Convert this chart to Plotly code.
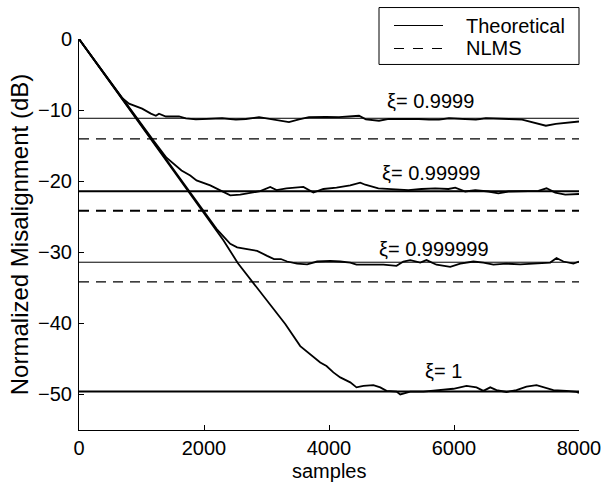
import plotly.graph_objects as go

# ---- data ----
xi_labels = ["ξ= 0.9999", "ξ= 0.99999", "ξ= 0.999999", "ξ= 1"]
theory_levels = [-11.15, -21.43, -31.4, -49.6]
nlms_levels = [-14.06, -24.15, -34.15]
label_x = [5616, 5632, 5680, 5824]
label_y = [-8.66, -18.9, -29.5, -46.7]

a_x = [0, 200, 400, 600, 690, 800, 1010, 1150, 1230, 1280, 1390, 1600, 1710, 1870, 2130,
       2290, 2510, 2670, 2880, 3040, 3250, 3360, 3520, 3680, 3950, 4160, 4320, 4480, 4590,
       4800, 4960, 5120, 5280, 5440, 5600, 5760, 5920, 6130, 6350, 6510, 6670, 6880, 7090,
       7310, 7470, 7630, 7840, 8000]
a_y = [0, -2.4, -4.8, -7.2, -8.3, -9.1, -9.8, -10.5, -10.8, -10.5, -10.9, -10.9, -11.15,
       -11.3, -11.25, -11.15, -11.35, -11.25, -11.0, -11.25, -11.6, -11.7, -11.3, -11.0,
       -10.95, -11.0, -10.9, -10.8, -11.3, -11.5, -11.25, -11.25, -11.15, -11.25, -11.35,
       -11.35, -11.15, -11.25, -11.35, -11.15, -11.15, -11.25, -11.35, -11.8, -12.2,
       -11.95, -11.7, -11.6]

b_x = [0, 400, 800, 1200, 1400, 1640, 1780, 1880, 2100, 2260, 2420, 2580, 2740, 2900,
       3060, 3160, 3320, 3590, 3750, 3910, 4120, 4340, 4500, 4580, 4790, 5060, 5270, 5480,
       5700, 5910, 6020, 6180, 6340, 6550, 6710, 6870, 7140, 7350, 7480, 7620, 7780, 7940,
       8000]
b_y = [0, -4.8, -9.7, -14.4, -16.7, -18.5, -19.2, -19.9, -20.6, -21.3, -22.0, -21.9, -21.7,
       -21.4, -20.8, -21.25, -21.0, -20.8, -21.6, -21.1, -20.9, -20.6, -20.2, -20.5, -21.0,
       -21.1, -21.25, -21.1, -21.0, -21.1, -20.9, -21.45, -21.25, -21.45, -21.7, -21.45,
       -21.45, -21.35, -21.0, -21.6, -21.9, -21.9, -21.8]

c_x = [0, 400, 800, 1200, 1600, 2000, 2200, 2420, 2530, 2690, 2850, 3010, 3120, 3230, 3330,
       3490, 3650, 3810, 4020, 4180, 4340, 4440, 4660, 4870, 5080, 5190, 5300, 5460, 5560,
       5720, 5940, 6100, 6310, 6470, 6630, 6840, 7060, 7320, 7540, 7640, 7750, 7910, 8000]
c_y = [0, -4.85, -9.75, -14.6, -19.5, -24.3, -26.7, -28.8, -29.3, -29.55, -29.8, -30.5,
       -30.95, -30.95, -31.3, -31.6, -31.7, -31.3, -31.2, -31.3, -31.45, -31.75, -31.7,
       -31.75, -31.9, -31.3, -31.1, -31.45, -31.1, -31.75, -32.05, -31.6, -31.3, -31.45,
       -31.75, -31.6, -31.7, -31.6, -31.45, -30.8, -31.3, -31.6, -31.3]

d_x = [0, 400, 800, 1200, 1600, 2000, 2310, 2540, 2800, 3050, 3300, 3540, 3700, 3860, 3960,
       4070, 4180, 4340, 4440, 4550, 4710, 4820, 4920, 5080, 5140, 5300, 5510, 5670, 5780,
       5990, 6200, 6360, 6470, 6580, 6680, 6840, 7000, 7160, 7320, 7430, 7590, 7800, 7960,
       8000]
d_y = [0, -4.9, -9.8, -14.7, -19.6, -24.5, -28.3, -31.5, -34.4, -37.3, -40.1, -43.2, -44.3,
       -45.5, -46.0, -46.9, -47.6, -48.3, -49.0, -48.8, -48.7, -49.0, -49.5, -49.6, -50.0,
       -49.6, -49.6, -49.5, -49.4, -49.2, -48.8, -49.0, -49.5, -49.0, -49.4, -49.65, -49.4,
       -48.9, -48.7, -49.0, -49.4, -49.5, -49.65, -49.8]

x_range = [0, 8000]
y_range = [-55, 0]
x_ticks = [0, 2000, 4000, 6000, 8000]
y_ticks = [0, -10, -20, -30, -40, -50]

FONT = "Liberation Sans, Arial, Helvetica, sans-serif"
FS = 20

fig = go.Figure()

theory_w = [1.0, 2.0, 1.0, 2.0]
nlms_w = [1.2, 2.0, 1.2]
for lvl, w in zip(theory_levels, theory_w):
    fig.add_trace(go.Scatter(x=x_range, y=[lvl, lvl], mode="lines",
                             line=dict(color="black", width=w), showlegend=False,
                             name="Theoretical"))
for lvl, w in zip(nlms_levels, nlms_w):
    fig.add_trace(go.Scatter(x=x_range, y=[lvl, lvl], mode="lines",
                             line=dict(color="black", width=w, dash="10px,7px"),
                             showlegend=False, name="NLMS"))

for xs, ys in [(a_x, a_y), (b_x, b_y), (c_x, c_y), (d_x, d_y)]:
    fig.add_trace(go.Scatter(x=xs, y=ys, mode="lines",
                             line=dict(color="black", width=1.8), showlegend=False))

annotations = []
for t, lx, ly in zip(xi_labels, label_x, label_y):
    annotations.append(dict(x=lx, y=ly, xref="x", yref="y", text=t, showarrow=False,
                            xanchor="center", yanchor="middle",
                            font=dict(family=FONT, size=FS, color="black")))

# x-axis title placed as an annotation under the tick labels
annotations.append(dict(x=0.5, y=(430 - 458) / 391.5, xref="paper", yref="paper",
                        text="samples", showarrow=False, xanchor="center", yanchor="top",
                        font=dict(family=FONT, size=FS, color="black")))

# hand-drawn legend box (paper coordinates)
L0, L1 = (379 - 79) / 500, (579 - 79) / 500
T0, T1 = (430 - 7) / 391.5, (430 - 64) / 391.5
row1, row2 = (430 - 25) / 391.5, (430 - 48) / 391.5
s0, s1 = (394 - 79) / 500, (443 - 79) / 500
tx = (461 - 79) / 500
shapes = [
    dict(type="rect", xref="paper", yref="paper", x0=L0, x1=L1, y0=T1, y1=T0,
         line=dict(color="black", width=1), fillcolor="white", layer="above"),
    dict(type="line", xref="paper", yref="paper", x0=s0, x1=s1, y0=row1, y1=row1,
         line=dict(color="black", width=1.2), layer="above"),
    dict(type="line", xref="paper", yref="paper", x0=s0, x1=s1, y0=row2, y1=row2,
         line=dict(color="black", width=1.2, dash="10px,9px"), layer="above"),
]
annotations.append(dict(x=tx, y=row1, xref="paper", yref="paper", text="Theoretical",
                        showarrow=False, xanchor="left", yanchor="middle", xshift=3,
                        font=dict(family=FONT, size=FS, color="black")))
annotations.append(dict(x=tx, y=row2, xref="paper", yref="paper", text="NLMS",
                        showarrow=False, xanchor="left", yanchor="middle", xshift=3,
                        font=dict(family=FONT, size=FS, color="black")))

fig.update_layout(
    width=604, height=483,
    margin=dict(l=79, r=25, t=38.5, b=53, pad=0, autoexpand=False),
    paper_bgcolor="white", plot_bgcolor="white",
    font=dict(family=FONT, size=FS, color="black"),
    showlegend=False,
    annotations=annotations,
    shapes=shapes,
)
fig.update_xaxes(range=x_range, tickvals=x_ticks, ticks="inside", ticklen=5,
                 tickcolor="black", showline=True, linecolor="black", linewidth=1,
                 showgrid=False, zeroline=False, mirror=False, automargin=False,
                 tickfont=dict(family=FONT, size=FS))
fig.update_yaxes(range=y_range, tickvals=y_ticks, ticks="inside", ticklen=5,
                 tickcolor="black", showline=True, linecolor="black", linewidth=1,
                 showgrid=False, zeroline=False, mirror=False, automargin=False,
                 ticklabelstandoff=2,
                 title=dict(text="Normalized Misalignment (dB)", standoff=2),
                 tickfont=dict(family=FONT, size=FS))

fig.write_html("out.html")
